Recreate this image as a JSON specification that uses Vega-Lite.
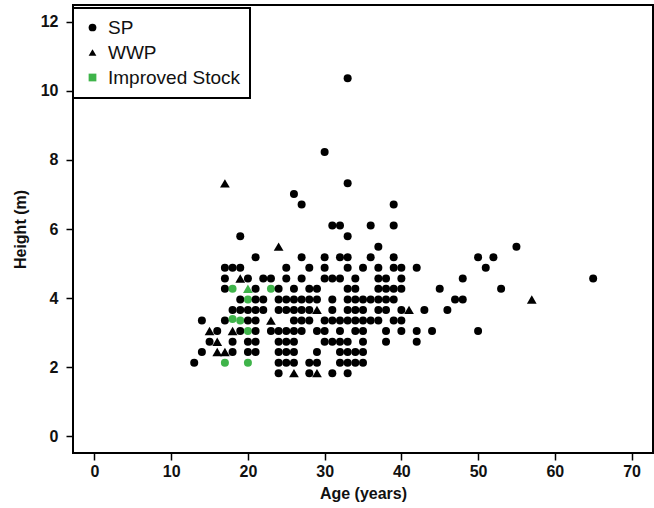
{
  "$schema": "https://vega.github.io/schema/vega-lite/v6.json",
  "autosize": "none",
  "padding": {"left": 73, "top": 5, "right": 1, "bottom": 55},
  "width": 580,
  "height": 448,
  "background": "white",
  "config": {
    "view": {"stroke": "black", "strokeWidth": 2},
    "font": "Liberation Sans"
  },
  "data": {"values": [
    {"a":33,"h":10.36,"s":"SP","g":"SP"},
    {"a":30,"h":8.23,"s":"SP","g":"SP"},
    {"a":33,"h":7.32,"s":"SP","g":"SP"},
    {"a":17,"h":7.32,"s":"WWP","g":"WWP"},
    {"a":26,"h":7.01,"s":"SP","g":"SP"},
    {"a":27,"h":6.71,"s":"SP","g":"SP"},
    {"a":39,"h":6.71,"s":"SP","g":"SP"},
    {"a":31,"h":6.1,"s":"SP","g":"SP"},
    {"a":32,"h":6.1,"s":"SP","g":"SP"},
    {"a":36,"h":6.1,"s":"SP","g":"SP"},
    {"a":39,"h":6.1,"s":"SP","g":"SP"},
    {"a":19,"h":5.79,"s":"SP","g":"SP"},
    {"a":33,"h":5.79,"s":"SP","g":"SP"},
    {"a":24,"h":5.49,"s":"WWP","g":"WWP"},
    {"a":37,"h":5.49,"s":"SP","g":"SP"},
    {"a":55,"h":5.49,"s":"SP","g":"SP"},
    {"a":21,"h":5.18,"s":"SP","g":"SP"},
    {"a":27,"h":5.18,"s":"SP","g":"SP"},
    {"a":30,"h":5.18,"s":"SP","g":"SP"},
    {"a":32,"h":5.18,"s":"SP","g":"SP"},
    {"a":33,"h":5.18,"s":"SP","g":"SP"},
    {"a":36,"h":5.18,"s":"SP","g":"SP"},
    {"a":39,"h":5.18,"s":"SP","g":"SP"},
    {"a":50,"h":5.18,"s":"SP","g":"SP"},
    {"a":52,"h":5.18,"s":"SP","g":"SP"},
    {"a":17,"h":4.88,"s":"SP","g":"SP"},
    {"a":18,"h":4.88,"s":"SP","g":"SP"},
    {"a":19,"h":4.88,"s":"SP","g":"SP"},
    {"a":25,"h":4.88,"s":"SP","g":"SP"},
    {"a":28,"h":4.88,"s":"SP","g":"SP"},
    {"a":30,"h":4.88,"s":"SP","g":"SP"},
    {"a":33,"h":4.88,"s":"SP","g":"SP"},
    {"a":35,"h":4.88,"s":"SP","g":"SP"},
    {"a":37,"h":4.88,"s":"SP","g":"SP"},
    {"a":39,"h":4.88,"s":"SP","g":"SP"},
    {"a":40,"h":4.88,"s":"SP","g":"SP"},
    {"a":42,"h":4.88,"s":"SP","g":"SP"},
    {"a":51,"h":4.88,"s":"SP","g":"SP"},
    {"a":17,"h":4.57,"s":"SP","g":"SP"},
    {"a":19,"h":4.57,"s":"WWP","g":"WWP"},
    {"a":20,"h":4.57,"s":"SP","g":"SP"},
    {"a":22,"h":4.57,"s":"SP","g":"SP"},
    {"a":23,"h":4.57,"s":"SP","g":"SP"},
    {"a":25,"h":4.57,"s":"SP","g":"SP"},
    {"a":27,"h":4.57,"s":"SP","g":"SP"},
    {"a":30,"h":4.57,"s":"SP","g":"SP"},
    {"a":31,"h":4.57,"s":"SP","g":"SP"},
    {"a":32,"h":4.57,"s":"SP","g":"SP"},
    {"a":34,"h":4.57,"s":"SP","g":"SP"},
    {"a":37,"h":4.57,"s":"SP","g":"SP"},
    {"a":38,"h":4.57,"s":"SP","g":"SP"},
    {"a":40,"h":4.57,"s":"SP","g":"SP"},
    {"a":48,"h":4.57,"s":"SP","g":"SP"},
    {"a":65,"h":4.57,"s":"SP","g":"SP"},
    {"a":17,"h":4.27,"s":"SP","g":"SP"},
    {"a":18,"h":4.27,"s":"SP","g":"Improved Stock"},
    {"a":20,"h":4.27,"s":"WWP","g":"Improved Stock"},
    {"a":21,"h":4.27,"s":"SP","g":"SP"},
    {"a":23,"h":4.27,"s":"SP","g":"Improved Stock"},
    {"a":24,"h":4.27,"s":"SP","g":"SP"},
    {"a":26,"h":4.27,"s":"SP","g":"SP"},
    {"a":28,"h":4.27,"s":"SP","g":"SP"},
    {"a":29,"h":4.27,"s":"SP","g":"SP"},
    {"a":33,"h":4.27,"s":"SP","g":"SP"},
    {"a":34,"h":4.27,"s":"SP","g":"SP"},
    {"a":37,"h":4.27,"s":"SP","g":"SP"},
    {"a":38,"h":4.27,"s":"SP","g":"SP"},
    {"a":39,"h":4.27,"s":"SP","g":"SP"},
    {"a":40,"h":4.27,"s":"SP","g":"SP"},
    {"a":45,"h":4.27,"s":"SP","g":"SP"},
    {"a":53,"h":4.27,"s":"SP","g":"SP"},
    {"a":19,"h":3.96,"s":"SP","g":"SP"},
    {"a":20,"h":3.96,"s":"SP","g":"Improved Stock"},
    {"a":21,"h":3.96,"s":"SP","g":"SP"},
    {"a":22,"h":3.96,"s":"SP","g":"SP"},
    {"a":24,"h":3.96,"s":"SP","g":"SP"},
    {"a":25,"h":3.96,"s":"SP","g":"SP"},
    {"a":26,"h":3.96,"s":"SP","g":"SP"},
    {"a":27,"h":3.96,"s":"SP","g":"SP"},
    {"a":28,"h":3.96,"s":"SP","g":"SP"},
    {"a":29,"h":3.96,"s":"SP","g":"SP"},
    {"a":31,"h":3.96,"s":"SP","g":"SP"},
    {"a":33,"h":3.96,"s":"SP","g":"SP"},
    {"a":34,"h":3.96,"s":"SP","g":"SP"},
    {"a":35,"h":3.96,"s":"SP","g":"SP"},
    {"a":36,"h":3.96,"s":"SP","g":"SP"},
    {"a":37,"h":3.96,"s":"SP","g":"SP"},
    {"a":38,"h":3.96,"s":"SP","g":"SP"},
    {"a":39,"h":3.96,"s":"SP","g":"SP"},
    {"a":47,"h":3.96,"s":"SP","g":"SP"},
    {"a":48,"h":3.96,"s":"SP","g":"SP"},
    {"a":57,"h":3.96,"s":"WWP","g":"WWP"},
    {"a":18,"h":3.66,"s":"SP","g":"SP"},
    {"a":19,"h":3.66,"s":"SP","g":"SP"},
    {"a":20,"h":3.66,"s":"SP","g":"SP"},
    {"a":21,"h":3.66,"s":"SP","g":"SP"},
    {"a":22,"h":3.66,"s":"SP","g":"SP"},
    {"a":24,"h":3.66,"s":"SP","g":"SP"},
    {"a":25,"h":3.66,"s":"SP","g":"SP"},
    {"a":26,"h":3.66,"s":"SP","g":"SP"},
    {"a":27,"h":3.66,"s":"SP","g":"SP"},
    {"a":28,"h":3.66,"s":"SP","g":"SP"},
    {"a":29,"h":3.66,"s":"WWP","g":"WWP"},
    {"a":31,"h":3.66,"s":"SP","g":"SP"},
    {"a":33,"h":3.66,"s":"SP","g":"SP"},
    {"a":34,"h":3.66,"s":"SP","g":"SP"},
    {"a":35,"h":3.66,"s":"SP","g":"SP"},
    {"a":37,"h":3.66,"s":"SP","g":"SP"},
    {"a":38,"h":3.66,"s":"SP","g":"SP"},
    {"a":40,"h":3.66,"s":"SP","g":"SP"},
    {"a":41,"h":3.66,"s":"WWP","g":"WWP"},
    {"a":43,"h":3.66,"s":"SP","g":"SP"},
    {"a":46,"h":3.66,"s":"SP","g":"SP"},
    {"a":14,"h":3.35,"s":"SP","g":"SP"},
    {"a":17,"h":3.35,"s":"SP","g":"SP"},
    {"a":18,"h":3.4,"s":"SP","g":"Improved Stock"},
    {"a":19,"h":3.35,"s":"SP","g":"Improved Stock"},
    {"a":20,"h":3.35,"s":"SP","g":"SP"},
    {"a":21,"h":3.35,"s":"SP","g":"SP"},
    {"a":23,"h":3.35,"s":"WWP","g":"WWP"},
    {"a":26,"h":3.35,"s":"SP","g":"SP"},
    {"a":27,"h":3.35,"s":"SP","g":"SP"},
    {"a":28,"h":3.35,"s":"SP","g":"SP"},
    {"a":30,"h":3.35,"s":"SP","g":"SP"},
    {"a":31,"h":3.35,"s":"SP","g":"SP"},
    {"a":32,"h":3.35,"s":"SP","g":"SP"},
    {"a":33,"h":3.35,"s":"SP","g":"SP"},
    {"a":34,"h":3.35,"s":"SP","g":"SP"},
    {"a":35,"h":3.35,"s":"SP","g":"SP"},
    {"a":36,"h":3.35,"s":"SP","g":"SP"},
    {"a":37,"h":3.35,"s":"SP","g":"SP"},
    {"a":39,"h":3.35,"s":"SP","g":"SP"},
    {"a":40,"h":3.35,"s":"SP","g":"SP"},
    {"a":15,"h":3.05,"s":"WWP","g":"WWP"},
    {"a":16,"h":3.05,"s":"SP","g":"SP"},
    {"a":18,"h":3.05,"s":"WWP","g":"WWP"},
    {"a":19,"h":3.05,"s":"SP","g":"SP"},
    {"a":20,"h":3.05,"s":"SP","g":"Improved Stock"},
    {"a":21,"h":3.05,"s":"SP","g":"SP"},
    {"a":23,"h":3.05,"s":"SP","g":"SP"},
    {"a":24,"h":3.05,"s":"SP","g":"SP"},
    {"a":25,"h":3.05,"s":"SP","g":"SP"},
    {"a":26,"h":3.05,"s":"SP","g":"SP"},
    {"a":27,"h":3.05,"s":"SP","g":"SP"},
    {"a":29,"h":3.05,"s":"SP","g":"SP"},
    {"a":30,"h":3.05,"s":"SP","g":"SP"},
    {"a":32,"h":3.05,"s":"SP","g":"SP"},
    {"a":34,"h":3.05,"s":"SP","g":"SP"},
    {"a":35,"h":3.05,"s":"SP","g":"SP"},
    {"a":38,"h":3.05,"s":"SP","g":"SP"},
    {"a":40,"h":3.05,"s":"SP","g":"SP"},
    {"a":42,"h":3.05,"s":"SP","g":"SP"},
    {"a":44,"h":3.05,"s":"SP","g":"SP"},
    {"a":50,"h":3.05,"s":"SP","g":"SP"},
    {"a":15,"h":2.74,"s":"SP","g":"SP"},
    {"a":16,"h":2.74,"s":"WWP","g":"WWP"},
    {"a":18,"h":2.74,"s":"SP","g":"SP"},
    {"a":20,"h":2.74,"s":"SP","g":"SP"},
    {"a":21,"h":2.74,"s":"SP","g":"SP"},
    {"a":24,"h":2.74,"s":"SP","g":"SP"},
    {"a":25,"h":2.74,"s":"SP","g":"SP"},
    {"a":26,"h":2.74,"s":"SP","g":"SP"},
    {"a":30,"h":2.74,"s":"SP","g":"SP"},
    {"a":31,"h":2.74,"s":"SP","g":"SP"},
    {"a":32,"h":2.74,"s":"SP","g":"SP"},
    {"a":33,"h":2.74,"s":"SP","g":"SP"},
    {"a":35,"h":2.74,"s":"SP","g":"SP"},
    {"a":38,"h":2.74,"s":"SP","g":"SP"},
    {"a":42,"h":2.74,"s":"SP","g":"SP"},
    {"a":14,"h":2.44,"s":"SP","g":"SP"},
    {"a":16,"h":2.44,"s":"WWP","g":"WWP"},
    {"a":17,"h":2.44,"s":"WWP","g":"WWP"},
    {"a":18,"h":2.44,"s":"SP","g":"SP"},
    {"a":20,"h":2.44,"s":"SP","g":"SP"},
    {"a":21,"h":2.44,"s":"SP","g":"SP"},
    {"a":24,"h":2.44,"s":"SP","g":"SP"},
    {"a":25,"h":2.44,"s":"SP","g":"SP"},
    {"a":26,"h":2.44,"s":"SP","g":"SP"},
    {"a":29,"h":2.44,"s":"SP","g":"SP"},
    {"a":32,"h":2.44,"s":"SP","g":"SP"},
    {"a":33,"h":2.44,"s":"SP","g":"SP"},
    {"a":34,"h":2.44,"s":"SP","g":"SP"},
    {"a":35,"h":2.44,"s":"SP","g":"SP"},
    {"a":13,"h":2.13,"s":"SP","g":"SP"},
    {"a":17,"h":2.13,"s":"SP","g":"Improved Stock"},
    {"a":20,"h":2.13,"s":"SP","g":"Improved Stock"},
    {"a":24,"h":2.13,"s":"SP","g":"SP"},
    {"a":25,"h":2.13,"s":"SP","g":"SP"},
    {"a":26,"h":2.13,"s":"SP","g":"SP"},
    {"a":28,"h":2.13,"s":"SP","g":"SP"},
    {"a":29,"h":2.13,"s":"SP","g":"SP"},
    {"a":32,"h":2.13,"s":"SP","g":"SP"},
    {"a":33,"h":2.13,"s":"SP","g":"SP"},
    {"a":34,"h":2.13,"s":"SP","g":"SP"},
    {"a":35,"h":2.13,"s":"SP","g":"SP"},
    {"a":24,"h":1.83,"s":"SP","g":"SP"},
    {"a":26,"h":1.83,"s":"WWP","g":"WWP"},
    {"a":28,"h":1.83,"s":"SP","g":"SP"},
    {"a":29,"h":1.83,"s":"WWP","g":"WWP"},
    {"a":31,"h":1.83,"s":"SP","g":"SP"},
    {"a":33,"h":1.83,"s":"SP","g":"SP"}
  ]},
  "mark": {"type": "point", "filled": true, "opacity": 1},
  "encoding": {
    "x": {
      "field": "a", "type": "quantitative",
      "scale": {"domain": [-2.8, 72.8], "nice": false, "zero": false},
      "axis": {
        "values": [0, 10, 20, 30, 40, 50, 60, 70],
        "title": "Age (years)",
        "grid": false, "domain": false,
        "tickSize": 7, "tickWidth": 1.5, "tickColor": "black",
        "labelFont": "Liberation Sans", "labelFontWeight": "bold", "labelFontSize": 16,
        "labelColor": "#111", "labelPadding": 3,
        "titleFont": "Liberation Sans", "titleFontWeight": "bold", "titleFontSize": 16,
        "titleColor": "#111", "titlePadding": 6
      }
    },
    "y": {
      "field": "h", "type": "quantitative",
      "scale": {"domain": [-0.48, 12.48], "nice": false, "zero": false},
      "axis": {
        "values": [0, 2, 4, 6, 8, 10, 12],
        "title": "Height (m)",
        "grid": false, "domain": false,
        "tickSize": 7, "tickWidth": 1.5, "tickColor": "black",
        "labelFont": "Liberation Sans", "labelFontWeight": "bold", "labelFontSize": 16,
        "labelColor": "#111", "labelPadding": 8,
        "titleFont": "Liberation Sans", "titleFontWeight": "bold", "titleFontSize": 16,
        "titleColor": "#111", "titlePadding": 12
      }
    },
    "shape": {
      "field": "s", "type": "nominal",
      "scale": {"domain": ["SP", "WWP"], "range": ["circle", "triangle-up"]},
      "legend": null
    },
    "size": {
      "field": "s", "type": "nominal",
      "scale": {"domain": ["SP", "WWP"], "range": [64, 95]},
      "legend": null
    },
    "color": {
      "field": "g", "type": "nominal",
      "scale": {"domain": ["SP", "WWP", "Improved Stock"], "range": ["black", "black", "#3fb44a"]},
      "legend": {
        "title": null,
        "orient": "none",
        "legendX": 0,
        "legendY": 3,
        "direction": "vertical",
        "padding": 10,
        "strokeColor": "black",
        "fillColor": "white",
        "labelFont": "Liberation Sans",
        "labelFontSize": 19,
        "labelColor": "#111",
        "labelOffset": 6,
        "rowPadding": 5,
        "symbolSize": 60,
        "symbolStrokeWidth": 0,
        "encoding": {
          "legend": {"strokeWidth": {"value": 2}},
          "symbols": {
            "shape": {"value": {"expr": "datum.value === 'WWP' ? 'triangle-up' : datum.value === 'SP' ? 'circle' : 'square'"}},
            "opacity": {"value": 1}
          }
        }
      }
    }
  }
}
